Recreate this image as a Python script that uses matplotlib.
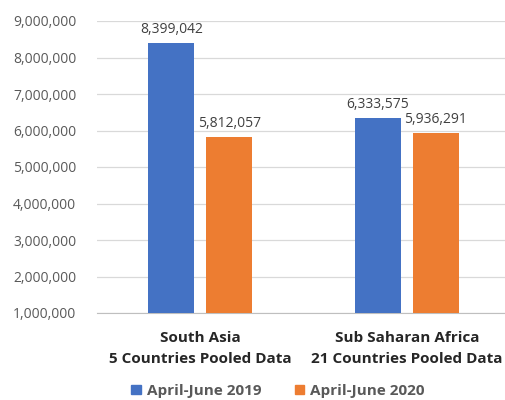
import matplotlib
matplotlib.use("Agg")
import matplotlib.pyplot as plt
from matplotlib.ticker import FuncFormatter, MultipleLocator
from matplotlib.patches import Patch

categories = ["South Asia\n5 Countries Pooled Data", "Sub Saharan Africa\n21 Countries Pooled Data"]
series_names = ["April-June 2019", "April-June 2020"]
values_2019 = [8399042, 6333575]
values_2020 = [5812057, 5936291]
colors = ["#4472C4", "#ED7D31"]

plt.rcParams['font.family'] = ['Open Sans', 'DejaVu Sans']

fig = plt.figure(figsize=(5.06, 4.0), dpi=100)
ax = fig.add_axes([97/506, 1-313/400, 409/506, (313-21)/400])

x = list(range(len(categories)))
w = 0.222
off = 0.14
b1 = ax.bar([i - off for i in x], [v - 1e6 for v in values_2019], w, bottom=1e6, color=colors[0], zorder=3)
b2 = ax.bar([i + off for i in x], [v - 1e6 for v in values_2020], w, bottom=1e6, color=colors[1], zorder=3)

for bars, vals in ((b1, values_2019), (b2, values_2020)):
    for r, v in zip(bars, vals):
        ax.text(r.get_x() + r.get_width()/2, v + 170000, f"{v:,}", ha='center', va='bottom',
                fontsize=10, color='#404040')

ax.set_ylim(1e6, 9e6)
ax.set_xlim(-0.5, 1.48)
ax.yaxis.set_major_locator(MultipleLocator(1e6))
ax.yaxis.set_major_formatter(FuncFormatter(lambda v, p: f"{int(v):,}"))
ax.grid(axis='y', color='#D9D9D9', linewidth=0.9, zorder=0)
for s in ['top', 'right', 'left']:
    ax.spines[s].set_visible(False)
ax.spines['bottom'].set_color('#BFBFBF')
ax.tick_params(axis='y', length=0, labelsize=10, labelcolor='#595959', pad=15)
ax.tick_params(axis='x', length=0, pad=13)
ax.set_xticks(x)
ax.set_xticklabels(categories, fontsize=11, fontweight='bold', color='#262626', linespacing=1.6)

handles = [Patch(color=c) for c in colors]
fig.legend(handles, series_names, loc='center', bbox_to_anchor=(278/506, 1-391/400), ncol=2,
           frameon=False, prop={'size': 11, 'weight': 'bold'}, labelcolor='#595959',
           handlelength=0.6, handleheight=0.6, handletextpad=0.4, columnspacing=2.2)

fig.savefig("out.png", dpi=100)
